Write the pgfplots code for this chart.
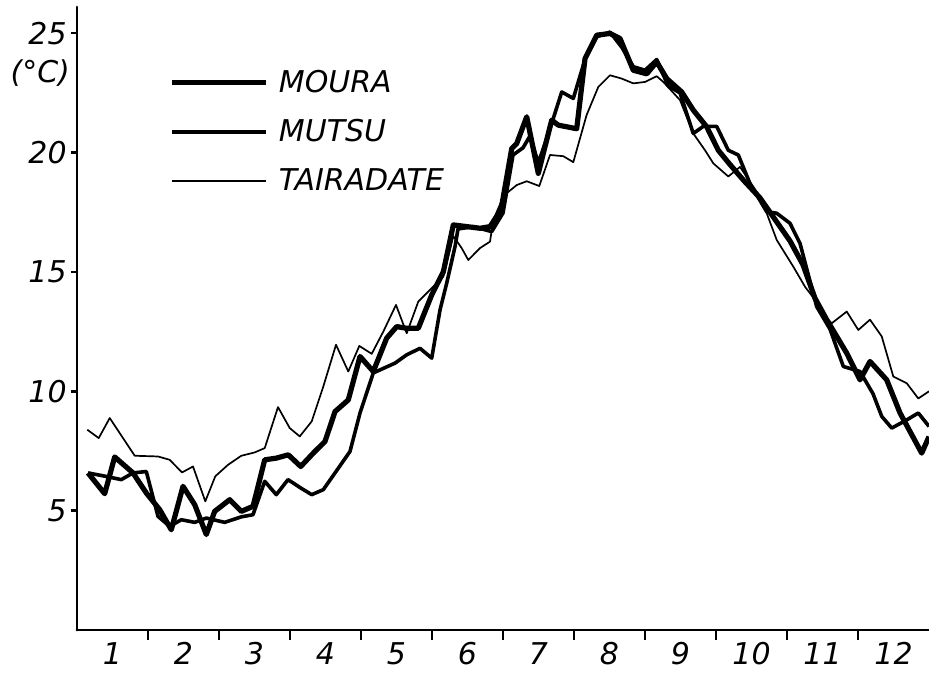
\documentclass[border=0pt]{standalone}
\usepackage{fontspec}
\setmainfont{DejaVu Sans}
\usepackage{pgfplots}
\pgfplotsset{compat=1.18}
\newcommand{\lab}{\fontsize{15}{18}\selectfont\itshape}

\begin{document}
\begin{tikzpicture}
\path[use as bounding box] (-38.5pt,-22pt) rectangle (426pt,315pt);
\begin{axis}[
  at={(0,0)}, anchor=south west,
  scale only axis, width=426pt, height=311.5pt,
  xmin=0, xmax=12, ymin=0, ymax=26.1,
  axis lines=left,
  axis line style={-, line width=1.4pt, line cap=round},
  clip mode=individual,
  ytick={5,10,15,20,25},
  xtick={0.5,1.5,...,11.5},
  xticklabels={1,2,3,4,5,6,7,8,9,10,11,12},
  minor xtick={1,2,...,11},
  major x tick style={draw=none},
  tick align=outside,
  major tick length=3pt,
  minor tick length=5pt,
  tick style={line width=1.2pt, black},
  tick label style={font=\lab},
  yticklabel style={inner sep=2pt},
  xticklabel style={inner sep=1pt, yshift=-2pt},
  /pgf/number format/assume math mode=true,
  legend style={draw=none, fill=none, at={(axis cs:1.30,23.55)}, anchor=north west,
    font=\lab, row sep=10pt, column sep=4pt, inner sep=0pt,
    nodes={inner sep=1pt, anchor=west}},
  legend cell align=left,
  legend image code/.code={\draw[#1, line cap=butt] (0pt,0pt) -- (47pt,0pt);},
  every axis plot/.append style={black, line join=round},
]
% MOURA
\addplot[line width=2.6pt] coordinates {
(0.155,6.58) (0.390,5.71) (0.531,7.25) (0.789,6.58) (0.976,5.74) (1.165,5.04)
(1.328,4.20) (1.493,6.02) (1.658,5.25) (1.821,4.00) (1.939,4.97) (2.151,5.46)
(2.314,4.97) (2.479,5.18) (2.644,7.13) (2.807,7.20) (2.976,7.34) (3.151,6.85)
(3.328,7.41) (3.493,7.90) (3.634,9.15) (3.821,9.64) (3.986,11.46) (4.173,10.83)
(4.362,12.23) (4.503,12.71) (4.644,12.64) (4.807,12.64) (4.996,14.04) (5.159,15.00)
(5.300,16.97) (5.489,16.90) (5.676,16.83) (5.817,16.90) (5.972,17.60) (6.123,20.17)
(6.193,20.38) (6.334,21.50) (6.497,19.13) (6.686,21.36) (6.779,21.15) (7.038,21.00)
(7.155,23.94) (7.320,24.92) (7.507,24.99) (7.648,24.78) (7.835,23.45) (8.024,23.30)
(8.165,23.80) (8.306,23.10) (8.517,22.54) (8.680,21.78) (8.869,21.08) (9.032,20.10)
(9.197,19.50) (9.385,18.85) (9.620,18.10) (9.831,17.20) (10.042,16.30) (10.225,15.30)
(10.394,13.90) (10.559,13.00) (10.841,11.60) (11.028,10.48) (11.169,11.25) (11.404,10.48)
(11.592,9.09) (11.897,7.41) (12.000,8.10)
};
\addlegendentry{MOURA}
% MUTSU
\addplot[line width=1.8pt] coordinates {
(0.155,6.58) (0.366,6.46) (0.624,6.30) (0.789,6.58) (0.976,6.64) (1.141,4.76)
(1.306,4.34) (1.469,4.62) (1.658,4.51) (1.821,4.69) (2.080,4.51) (2.314,4.74)
(2.479,4.83) (2.644,6.23) (2.807,5.67) (2.972,6.30) (3.151,5.95) (3.306,5.67)
(3.469,5.88) (3.634,6.58) (3.845,7.48) (3.986,9.09) (4.173,10.77) (4.479,11.18)
(4.644,11.53) (4.831,11.80) (4.996,11.39) (5.113,13.41) (5.207,14.53) (5.324,16.06)
(5.366,16.80) (5.582,16.90) (5.841,16.69) (6.000,17.47) (6.141,19.90) (6.282,20.20)
(6.380,20.70) (6.497,19.56) (6.662,21.00) (6.827,22.54) (6.990,22.27) (7.155,23.90)
(7.320,24.85) (7.507,25.05) (7.676,24.40) (7.835,23.60) (8.000,23.45) (8.165,23.90)
(8.324,22.80) (8.493,22.50) (8.680,20.80) (8.821,21.10) (9.009,21.10) (9.173,20.10)
(9.314,19.90) (9.479,18.70) (9.714,17.52) (9.855,17.46) (10.042,17.04) (10.183,16.20)
(10.418,13.55) (10.606,12.60) (10.793,11.04) (11.028,10.83) (11.211,9.90) (11.334,8.95)
(11.475,8.46) (11.686,8.80) (11.849,9.09) (12.000,8.53)
};
\addlegendentry{MUTSU}
% TAIRADATE
\addplot[line width=0.85pt] coordinates {
(0.145,8.39) (0.306,8.04) (0.461,8.88) (0.813,7.30) (1.141,7.27) (1.306,7.13)
(1.479,6.60) (1.634,6.85) (1.807,5.39) (1.948,6.44) (2.127,6.92) (2.314,7.30)
(2.503,7.44) (2.644,7.62) (2.831,9.34) (2.996,8.46) (3.137,8.11) (3.306,8.74)
(3.469,10.20) (3.648,11.95) (3.821,10.83) (3.976,11.90) (4.151,11.57) (4.314,12.50)
(4.493,13.62) (4.644,12.43) (4.807,13.76) (4.996,14.32) (5.159,14.80) (5.300,16.50)
(5.418,16.00) (5.511,15.50) (5.676,16.00) (5.817,16.27) (5.863,17.18) (5.982,18.00)
(6.052,18.30) (6.193,18.64) (6.334,18.80) (6.511,18.60) (6.662,19.90) (6.849,19.85)
(6.990,19.60) (7.177,21.57) (7.342,22.75) (7.507,23.24) (7.672,23.10) (7.835,22.90)
(8.000,22.96) (8.165,23.20) (8.258,22.96) (8.493,22.20) (8.680,20.80) (8.845,20.10)
(8.962,19.55) (9.173,19.00) (9.338,19.40) (9.620,18.15) (9.714,17.46) (9.855,16.34)
(10.089,15.22) (10.254,14.38) (10.394,13.83) (10.511,13.20) (10.630,12.85) (10.841,13.34)
(11.004,12.57) (11.169,13.00) (11.334,12.30) (11.497,10.62) (11.686,10.34) (11.849,9.70)
(12.000,10.00)
};
\addlegendentry{TAIRADATE}
\node[anchor=east, font=\lab] at (axis cs:0,23.35) {(°C)};
\end{axis}
\end{tikzpicture}
\end{document}
